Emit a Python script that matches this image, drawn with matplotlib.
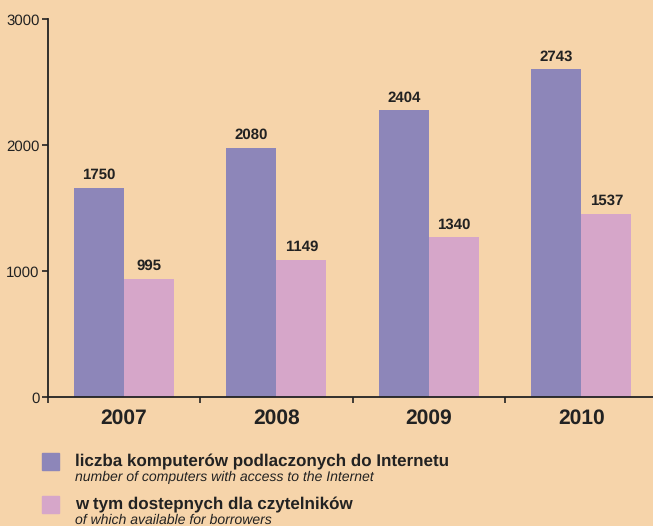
import numpy as np
import matplotlib
matplotlib.use("Agg")
import matplotlib.pyplot as plt
from matplotlib.patches import Rectangle

plt.rcParams['font.family'] = ['Liberation Sans', 'DejaVu Sans']
plt.rcParams['text.hinting'] = 'no_hinting'
plt.rcParams['text.hinting_factor'] = 1

# data
years = ['2007', '2008', '2009', '2010']
# bar heights as drawn in the reference (on its own axis scale)
all_pc = [1662, 1977, 2278, 2603]
readers_pc = [938, 1089, 1271, 1456]
# the printed value labels
all_labels = ['1750', '2080', '2404', '2743']
readers_labels = ['995', '1149', '1340', '1537']

legend_pl = ['liczba komputerów podlaczonych do Internetu',
             'w tym dostepnych dla czytelników']
legend_en = ['number of computers with access to the Internet',
             'of which available for borrowers']

bg = '#F6D4AA'
purple = '#8D86B9'
pink = '#D6A6C9'
dark = '#222222'

W, H = 653, 526
fig = plt.figure(figsize=(W / 100, H / 100), dpi=100, facecolor=bg)
ax = fig.add_axes([47.8 / W, 1 - 397.3 / H, 1 - 47.8 / W, (397.3 - 19) / H])
ax.set_facecolor(bg)

x = np.arange(len(years))
w = 0.328
b1 = ax.bar(x - w / 2, all_pc, w, color=purple)
b2 = ax.bar(x + w / 2, readers_pc, w, color=pink)

for bars, labs in ((b1, all_labels), (b2, readers_labels)):
    for r, t in zip(bars, labs):
        ax.annotate(t, (r.get_x() + r.get_width() / 2, r.get_height()),
                    xytext=(0, 4), textcoords='offset points',
                    ha='center', va='bottom', fontsize=10.5,
                    fontweight='bold', color=dark)

ax.set_xlim(-0.5, 3.47)
ax.set_ylim(0, 3000)
ax.set_yticks([0, 1000, 2000, 3000])
ax.tick_params(axis='y', length=4, width=1.2, color=dark, labelsize=10.5,
               labelcolor=dark, pad=2)
ax.set_xticks(x)
ax.set_xticklabels(years, fontsize=15, fontweight='bold', color=dark)
ax.tick_params(axis='x', length=0, pad=8)
ax.set_xticks([-0.5, 0.5, 1.5, 2.5], minor=True)
ax.tick_params(axis='x', which='minor', length=4, width=1.2, color=dark)

for s in ('top', 'right'):
    ax.spines[s].set_visible(False)
for s in ('left', 'bottom'):
    ax.spines[s].set_color(dark)
    ax.spines[s].set_linewidth(1.3)

# legend drawn by hand, as in the reference
for i, c in enumerate((purple, pink)):
    top = [453, 496][i]
    fig.patches.append(Rectangle((42.3 / W, 1 - (top + 17) / H), 17 / W, 17 / H,
                                 transform=fig.transFigure, color=c))
    fig.text(75 / W, 1 - (top + 9) / H, legend_pl[i], fontsize=11.9,
             fontweight='bold', color=dark, va='center')
    fig.text(75 / W, 1 - (top + 24) / H, legend_en[i], fontsize=9.9,
             style='italic', color=dark, va='center')

fig.savefig('out.png', dpi=100, facecolor=bg)
